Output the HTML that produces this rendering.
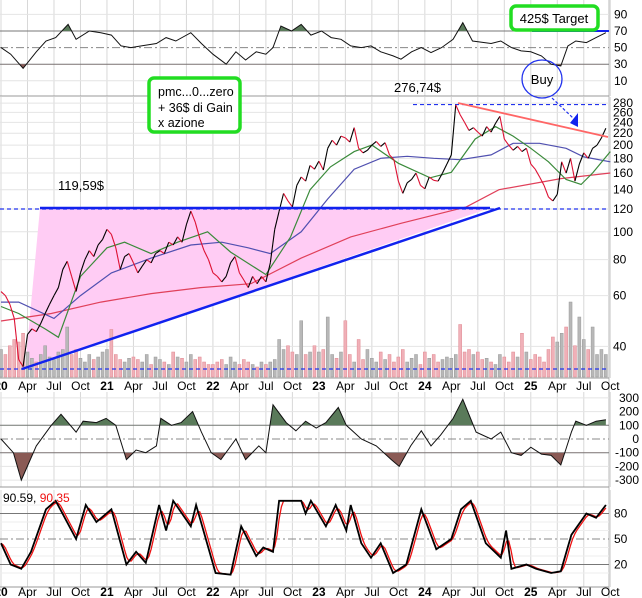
<!DOCTYPE html>
<html><head><meta charset="utf-8">
<style>
html,body{margin:0;padding:0;background:#fff;}
svg{display:block;font-family:"Liberation Sans",sans-serif;}
</style></head>
<body>
<svg id="chart" width="642" height="598" viewBox="0 0 642 598" xmlns="http://www.w3.org/2000/svg">
<rect x="0" y="0" width="642" height="598" fill="#fff"/>
<g id="grid"></g>
<g id="pricePanel"></g>
<g id="rsiPanel"></g>
<g id="cciPanel"></g>
<g id="stochPanel"></g>
<g id="annot">
  <rect x="511" y="6" width="87" height="24" rx="5" fill="#fff" stroke="#22dd22" stroke-width="3.5"/>
  <text x="554" y="23" font-size="13" text-anchor="middle">425$ Target</text>
  <rect x="149" y="78" width="91" height="54" rx="5" fill="#fff" stroke="#22dd22" stroke-width="3.5"/>
  <text font-size="12.5" x="158">
    <tspan x="158" y="96">pmc...0...zero</tspan>
    <tspan x="158" y="112">+ 36$ di Gain</tspan>
    <tspan x="158" y="127">x azione</tspan>
  </text>
  <text x="394" y="92" font-size="13">276,74$</text>
  <text x="58" y="190" font-size="13">119,59$</text>
  <ellipse cx="542" cy="79" rx="20" ry="19" fill="none" stroke="#2233ee" stroke-width="1.3"/>
  <text x="542" y="84" font-size="13" text-anchor="middle">Buy</text>
  <line x1="552" y1="98" x2="573" y2="118" stroke="#2233ee" stroke-width="1.2" stroke-dasharray="3,2"/>
  <polygon points="570,123 578,113 578,127" fill="#1122ee"/>
</g>
</svg>
<script>
// ---------- DATA ----------
const priceValues = [62,60,56,50,36,34,44,46,45,48,52,56,
60,64,74,79,70,62,72,80,86,82,90,94,
102,98,88,74,82,84,78,72,76,80,78,84,
86,84,92,90,96,92,106,118,108,95,86,80,
72,70,67,70,78,82,72,68,64,70,66,70,
67,78,102,118,136,128,122,145,155,150,170,165,
176,164,195,208,200,215,212,205,230,195,188,192,
200,206,198,204,185,178,150,136,148,152,160,145,
141,155,151,150,160,172,185,276,255,240,225,230,
222,215,232,222,238,252,210,200,192,198,190,195,
172,165,155,145,132,128,135,175,160,180,150,172,
188,180,195,200,212,229];
const volumeValues = [22,18,25,30,28,35,20,15,12,18,25,16,14,20,22,40,18,22,15,12,18,14,16,20,
22,38,18,14,12,15,16,14,12,18,10,16,14,12,10,20,16,15,12,18,14,16,12,10,
10,12,14,10,16,12,10,14,12,10,8,12,10,12,14,30,22,25,20,18,45,18,20,25,
20,22,48,18,15,20,45,18,12,30,14,22,15,12,20,14,18,12,16,22,12,15,18,10,
20,15,18,12,14,16,15,18,42,20,22,18,20,14,15,12,10,18,16,12,20,16,35,20,
14,18,16,12,22,32,28,35,40,60,25,48,30,22,40,18,22,18];
const greenMonths = [0,2,5,6.5,9,12,14,17,20,23.4,26,30,32.8,35,37.3,40,42,45,48.6,51,53.7,56,58,60,62,64,65.7,67,69];
const greenValues = [55,52,46,43,70,88,92,84,92,100,85,71,96,140,168,190,200,173,154,161,210,232,215,195,175,152,146,160,190];
const blueMonths = [0,2,6,9,12.5,17,21.5,25,28,30.5,34,37,40,43,46,49,52,55.5,58,61,64,66,69];
const blueValues = [57,57,50,60,72,81,90,92,88,84,100,130,165,180,183,180,178,185,203,203,195,182,175];
const redMonths = [0,5.7,11.3,17,22.6,28.3,34,39.6,45.3,52.7,56.4,63.4,69];
const redValues = [49,52,57,61,64,66,81,96,107,122,140,153,160];
const rsiMonths = [0,1.1,2.5,4,5.1,6.2,7.6,8.5,10,11.3,12.5,13.6,14.7,15.9,17.6,18.7,19.8,21.5,22.7,24,25.5,26.6,27.7,28.9,30,30.8,31.7,32.9,34,35.1,36.3,37.4,38.5,39.6,40.8,41.9,43,44.4,45.3,46.5,47.6,48.7,49.9,51.2,52.3,53.4,55.5,56.6,57.8,58.9,60,61.2,62.3,63.4,64.2,65.1,66.3,67.4,68.5];
const rsiValues = [50,42,25,45,58,62,78,60,70,68,65,52,50,52,55,62,58,68,55,42,30,45,35,45,42,50,76,70,78,65,70,62,60,52,50,52,45,40,36,45,50,44,50,60,80,58,55,58,50,46,45,40,30,28,52,58,56,62,68];
const cciMonths = [0,1.4,2.3,4,5.7,6.8,8.5,9.3,10.8,11.9,13,14.2,15.3,16.4,17.6,18.1,19.3,20.4,21.7,22.7,23.8,24.9,26.6,27.7,29.2,30,30.8,32.3,33.4,34.5,35.7,36.8,38.2,39.1,40.8,42.5,44.2,45.1,46.4,47.6,48.7,49.8,51.2,52.3,53.8,55.5,56.6,57.8,58.9,60,61.2,62.3,63.4,64,64.6,65.1,66.3,67.4,68.5];
const cciValues = [0,-100,-300,-50,100,180,50,130,120,150,100,-150,-80,-100,-50,150,100,120,200,50,-100,-150,0,-150,-50,-100,250,120,60,130,80,120,230,100,0,-50,-150,-200,-50,60,-50,30,150,290,50,0,50,-100,-120,-60,-110,-120,-190,-70,50,130,100,130,140];
const stochMonths = [0,1.1,2.3,3.4,5.1,6.2,8.5,9.6,10.8,12.5,14.2,15.3,16.4,17.9,18.7,19.5,21.5,22.1,24.3,26,27.2,28.9,29.7,30.8,31.5,34,34.5,35.1,36.8,37.9,39.1,39.6,40.8,41.9,43,44.4,45.9,47.6,49.3,51,52.1,53.2,54.9,56.6,57.2,57.8,59.5,60.6,62.3,63.4,64.6,66.3,67.4,68.5];
const stochValues = [45,20,15,35,85,95,50,90,70,85,20,35,22,90,60,95,65,90,10,8,65,30,40,35,95,95,80,95,65,90,60,90,45,28,45,10,20,85,38,50,85,95,45,28,60,15,20,15,10,12,55,80,75,90];
const priceTicks = [40,60,80,100,120,140,160,180,200,220,240,260,280];
const rsiTicks = [10,30,50,70,90];
const cciTicks = [300,200,100,0,-100,-200,-300];
const stochTicks = [20,50,80];
const timeLabels = ["20","Apr","Jul","Oct","21","Apr","Jul","Oct","22","Apr","Jul","Oct","23","Apr","Jul","Oct","24","Apr","Jul","Oct","25","Apr","Jul","Oct"];

// ---------- SCALES ----------
const NS="http://www.w3.org/2000/svg";
const X0=1, MPX=8.83, RIGHT=609;
const xm = m => X0 + m*MPX;
const yPrice = p => 209 - 125*Math.log(p/120);
const yRsi = v => 31 + (70-v)*0.83;
const yCci = v => 439 - v*0.137;
const ySt = v => 539 - (v-50)*0.85;
function el(tag, attrs, parent){const e=document.createElementNS(NS,tag);for(const k in attrs)e.setAttribute(k,attrs[k]);parent.appendChild(e);return e;}
const grid=document.getElementById('grid');
const pp=document.getElementById('pricePanel');
const rp=document.getElementById('rsiPanel');
const cp=document.getElementById('cciPanel');
const sp=document.getElementById('stochPanel');
const svg=document.getElementById('chart');

const panels=[[0,96],[97,378],[392,487],[490,587]];
for(let i=0;i<timeLabels.length;i++){
  const x=xm(i*3);
  for(const [t,b] of panels){
    const l=el('line',{x1:x,y1:t,x2:x,y2:b,stroke:'#d8d8d8','stroke-width':1},grid);
    
    
  }
}
el('line',{x1:RIGHT,y1:0,x2:RIGHT,y2:598,stroke:'#bbb'},grid);
for(const [t,b] of panels){ el('line',{x1:0,y1:b,x2:RIGHT,y2:b,stroke:'#999'},grid); }

function hline(g,y,color,dash,w){const a={x1:0,y1:y,x2:RIGHT,y2:y,stroke:color,'stroke-width':w||1};if(dash)a['stroke-dasharray']=dash;return el('line',a,g);}
function label(g,txt,x,y,color,anchor,bold){const t=el('text',{x:x,y:y,'font-size':12,fill:color||'#000','text-anchor':anchor||'start'},g);if(bold)t.setAttribute('font-weight','bold');t.textContent=txt;return t;}

for(const yy of [390,596]){
  timeLabels.forEach((s,i)=>{
    const t=label(grid,s,xm(i*3),yy,'#000','middle',/^\d/.test(s));
    
    
  });
}

// ----- RSI panel -----
rsiTicks.forEach(v=>{
  const y=yRsi(v);
  if(v===70||v===30) hline(rp,y,'#777');
  else if(v===50) hline(rp,y,'#888','8,3,2,3');
  else hline(rp,y,'#e4e4e4');
  const t=label(rp,String(v),614,y+4);
  
  
});
el('line',{x1:532,y1:yRsi(70),x2:RIGHT,y2:yRsi(70),stroke:'#1122ee','stroke-width':2},rp);

function pathFrom(ms,vs,xf,yf){return ms.map((m,i)=>(i?'L':'M')+xf(m).toFixed(1)+','+yf(vs[i]).toFixed(1)).join('');}
let clipId=0;
function bandFill(g,ms,vs,yf,level,above,color,top,bottom){
  const id='c'+(clipId++);
  const cl=el('clipPath',{id:id},svg);
  if(above) el('rect',{x:0,y:top,width:RIGHT,height:yf(level)-top},cl);
  else el('rect',{x:0,y:yf(level),width:RIGHT,height:bottom-yf(level)},cl);
  const d=pathFrom(ms,vs,xm,yf)+'L'+xm(ms[ms.length-1])+','+yf(level)+'L'+xm(ms[0])+','+yf(level)+'Z';
  return el('path',{d:d,fill:color,'clip-path':'url(#'+id+')'},g);
}
let f=bandFill(rp,rsiMonths,rsiValues,yRsi,70,true,'#5a7a5a',0,96);


f=bandFill(rp,rsiMonths,rsiValues,yRsi,30,false,'#8a5a55',0,96);


const rsiLine=el('path',{d:pathFrom(rsiMonths,rsiValues,xm,yRsi),fill:'none',stroke:'#111','stroke-width':1},rp);



// ----- Price panel -----
priceTicks.forEach(v=>{
  const y=yPrice(v);
  hline(pp,y,'#e4e4e4');
  const t=label(pp,String(v),613,y+4);
  
  
});
const tri=el('polygon',{points:'40,208 490,208 25,369',fill:'#ffccf4',stroke:'none'},pp);


volumeValues.forEach((v,i)=>{
  const up=i===0||priceValues[i]>=priceValues[i-1];
  const r=el('rect',{x:xm(i/2)-1.5,y:377-v*1.25,width:3,height:v*1.25,fill:up?'#b8b8b8':'#f0b0b8',stroke:up?'#999':'#e08890','stroke-width':0.5},pp);
  
  
});
el('line',{x1:0,y1:369,x2:RIGHT,y2:369,stroke:'#2233ee','stroke-dasharray':'4,3','stroke-width':1.2},pp);
el('line',{x1:0,y1:yPrice(120),x2:RIGHT,y2:yPrice(120),stroke:'#2233ee','stroke-dasharray':'4,3','stroke-width':1.2},pp);
el('line',{x1:413,y1:yPrice(276.74),x2:RIGHT,y2:yPrice(276.74),stroke:'#2233ee','stroke-dasharray':'4,3','stroke-width':1.2},pp);
// moving averages
const maRed=el('path',{d:pathFrom(redMonths,redValues,xm,yPrice),fill:'none',stroke:'#e0405a','stroke-width':1.2},pp);


const maBlue=el('path',{d:pathFrom(blueMonths,blueValues,xm,yPrice),fill:'none',stroke:'#5050b0','stroke-width':1.2},pp);


const maGreen=el('path',{d:pathFrom(greenMonths,greenValues,xm,yPrice),fill:'none',stroke:'#3a8a3a','stroke-width':1.2},pp);


for(let i=1;i<priceValues.length;i++){
  const s=el('line',{x1:xm((i-1)/2),y1:yPrice(priceValues[i-1]),x2:xm(i/2),y2:yPrice(priceValues[i]),stroke:priceValues[i]>=priceValues[i-1]?'#000':'#dd1133','stroke-width':1.1},pp);
  
  
}
const tl=el('line',{x1:40,y1:208,x2:490,y2:208,stroke:'#1122ee','stroke-width':2.5},pp);


const sl=el('line',{x1:22,y1:369,x2:500,y2:208,stroke:'#1122ee','stroke-width':2.5},pp);


const dl=el('line',{x1:458,y1:103,x2:608,y2:137,stroke:'#ff6666','stroke-width':1.8},pp);



// ----- CCI panel -----
cciTicks.forEach(v=>{
  const y=yCci(v);
  if(v===100||v===-100) hline(cp,y,'#777');
  else if(v===0) hline(cp,y,'#888','8,3,2,3');
  else hline(cp,y,'#e4e4e4');
  const t=label(cp,String(v),639,y+4,'#000','end');
  
  
});
f=bandFill(cp,cciMonths,cciValues,yCci,100,true,'#5a7a5a',392,487);


f=bandFill(cp,cciMonths,cciValues,yCci,-100,false,'#8a5a55',392,487);


const cciLine=el('path',{d:pathFrom(cciMonths,cciValues,xm,yCci),fill:'none',stroke:'#111','stroke-width':1},cp);



// ----- Stochastic panel -----
stochTicks.forEach(v=>{
  const y=ySt(v);
  if(v===50) hline(sp,y,'#888','8,3,2,3'); else hline(sp,y,'#777');
  const t=label(sp,String(v),614,y+4);
  
  
});
[10,30,40,60,70,90].forEach(v=>hline(sp,ySt(v),'#eee'));
function interp(ms,vs,m){for(let i=1;i<ms.length;i++){if(m<=ms[i]){const t=(m-ms[i-1])/(ms[i]-ms[i-1]);return vs[i-1]+t*(vs[i]-vs[i-1]);}}return vs[vs.length-1];}
const dM=[],dV=[];
for(let m=0;m<=stochMonths[stochMonths.length-1];m+=0.25){
  let s=0,c=0;for(let k=0;k<3;k++){const mm=Math.max(0,m-k*0.25);s+=interp(stochMonths,stochValues,mm);c++;}
  dM.push(m);dV.push(s/c);
}
const sd=el('path',{d:pathFrom(dM,dV,xm,ySt),fill:'none',stroke:'#ee1111','stroke-width':1.3},sp);


const sk=el('path',{d:pathFrom(stochMonths,stochValues,xm,ySt),fill:'none',stroke:'#000','stroke-width':1.8},sp);


const st=el('text',{x:3,y:502,'font-size':12},sp);


st.innerHTML='<tspan fill="#000">90.59, </tspan><tspan fill="#ee1111">90.35</tspan>';

svg.appendChild(document.getElementById('annot'));
</script>
</body></html>
